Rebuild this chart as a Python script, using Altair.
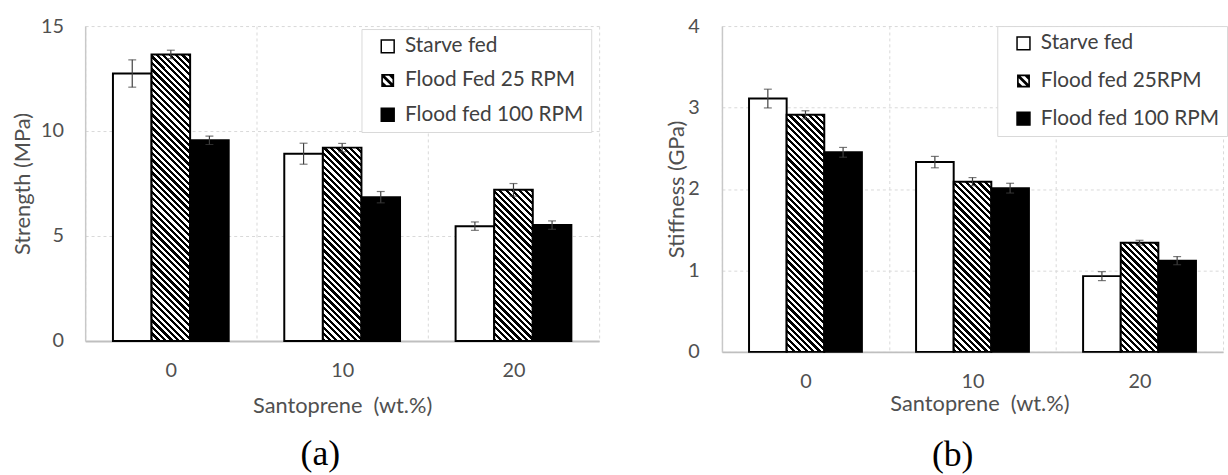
import altair as alt

# ---------------- data ----------------
WT = ["0", "10", "20"]

SERIES_A = ["Starve fed", "Flood Fed 25 RPM", "Flood fed 100 RPM"]
SERIES_B = ["Starve fed", "Flood fed 25RPM", "Flood fed 100 RPM"]

STRENGTH_STARVE = [12.74, 8.92, 5.47]
STRENGTH_FLOOD25 = [13.65, 9.21, 7.20]
STRENGTH_FLOOD100 = [9.56, 6.85, 5.52]
STRENGTH_STARVE_ERR = [0.65, 0.50, 0.20]
STRENGTH_FLOOD25_ERR = [0.20, 0.20, 0.30]
STRENGTH_FLOOD100_ERR = [0.20, 0.27, 0.20]

STIFF_STARVE = [3.11, 2.33, 0.93]
STIFF_FLOOD25 = [2.91, 2.09, 1.34]
STIFF_FLOOD100 = [2.45, 2.01, 1.12]
STIFF_STARVE_ERR = [0.115, 0.07, 0.055]
STIFF_FLOOD25_ERR = [0.05, 0.05, 0.03]
STIFF_FLOOD100_ERR = [0.06, 0.06, 0.05]

STRENGTH_TICKS = [0, 5, 10, 15]
STIFF_TICKS = [0, 1, 2, 3, 4]

# ---------------- style ----------------
FONT = "Lato"
GRID = "#d9d9d9"
TXT = "#505050"
ERR = "#404040"
PO = 0.72          # outer padding of bars inside a category
HATCH_PERIOD = 6.5


def hatch_gradient(w, h, period=HATCH_PERIOD, frac=0.5):
    """Linear gradient (bounding-box units) drawing 45 degree '\\' stripes."""
    span = w + h
    s = span / (w * w + h * h)
    x2, y2 = s * w, 1 - s * h
    pt = period / span
    stops = []
    t = 0.0
    while t < 1:
        b = min(t + pt * frac, 1.0)
        e = min(t + pt, 1.0)
        stops += [
            {"offset": round(t, 5), "color": "black"},
            {"offset": round(b, 5), "color": "black"},
            {"offset": round(b, 5), "color": "white"},
            {"offset": round(e, 5), "color": "white"},
        ]
        t += pt
    return {"gradient": "linear", "x1": 0, "y1": 1, "x2": round(x2, 5),
            "y2": round(y2, 5), "stops": stops}


def clip(poly, a, b, c):
    out = []
    n = len(poly)
    for i in range(n):
        p, q = poly[i], poly[(i + 1) % n]
        fp = a * p[0] + b * p[1] - c
        fq = a * q[0] + b * q[1] - c
        if fp <= 0:
            out.append(p)
        if (fp < 0 < fq) or (fq < 0 < fp):
            t = fp / (fp - fq)
            out.append((p[0] + t * (q[0] - p[0]), p[1] + t * (q[1] - p[1])))
    return out


def hatch_symbol_path():
    a = 0.74
    parts = ["M-1,-1L1,-1L1,1L-1,1Z", f"M{-a},{-a}L{-a},{a}L{a},{a}L{a},{-a}Z"]
    inner = [(-a, -a), (a, -a), (a, a), (-a, a)]
    for c1, c2 in [(-0.3, 0.3), (0.95, 3), (-3, -0.95)]:
        poly = clip(inner, 1, -1, c2)
        poly = clip(poly, -1, 1, -c1)
        if len(poly) >= 3:
            d = "M" + "L".join(f"{x:.3f},{y:.3f}" for x, y in poly) + "Z"
            parts.append(d)
    return "".join(parts)


HATCH_PATH = hatch_symbol_path()


def make_panel(series, vals, errs, ymax, ticks, ytitle, W, H,
               ytitle_x, ylab_pad, xtitle_y, xtitle_x, legx, legy, rowpad,
               caption, cap_dx, cap_offset):
    step = W / 3
    bw = step / (3 + 2 * PO)
    records = []
    for si, s in enumerate(series):
        for wi, wt in enumerate(WT):
            v, e = vals[si][wi], errs[si][wi]
            if si == 0:
                paint = "white"
            elif si == 1:
                paint = hatch_gradient(bw, v / ymax * H)
            else:
                paint = "black"
            records.append({"wt": wt, "series": s, "value": v,
                            "lo": v - e, "hi": v + e, "paint": paint})
    data = alt.Data(values=records)

    xscale = alt.Scale(domain=WT, paddingInner=0, paddingOuter=0)
    xoscale = alt.Scale(domain=series, paddingInner=0, paddingOuter=PO)
    yscale = alt.Scale(domain=[0, ymax], nice=False, zero=True)

    xaxis_kw = dict(
        title="Santoprene\u00a0 (wt.%)", labelAngle=0, tickBand="extent",
        grid=True, gridColor=GRID, gridDash=[3, 3], gridWidth=1,
        ticks=False, tickSize=0, domainColor="#bfbfbf", domainWidth=2,
        labelPadding=20, labelFont=FONT, labelFontSize=20, labelColor=TXT,
        titleFont=FONT, titleFontSize=22, titleFontWeight="normal",
        titleColor=TXT, titleY=xtitle_y, titleBaseline="middle",
    )
    if xtitle_x is not None:
        xaxis_kw["titleX"] = xtitle_x
    xaxis = alt.Axis(**xaxis_kw)
    yaxis = alt.Axis(
        title=ytitle, values=ticks, grid=True, gridColor=GRID,
        gridDash=[3, 3], gridWidth=1, ticks=False, tickSize=0,
        domainColor="#c8c8c8", domainWidth=1.5, labelPadding=ylab_pad,
        labelFont=FONT, labelFontSize=20, labelColor=TXT,
        titleFont=FONT, titleFontSize=22, titleFontWeight="normal",
        titleColor=TXT, titleX=ytitle_x, titleY=H / 2, titleBaseline="middle",
    )

    X = alt.X("wt:N", sort=WT, scale=xscale, axis=xaxis)
    XO = alt.XOffset("series:N", sort=series, scale=xoscale)

    legend = alt.Legend(
        title=None, orient="none", legendX=legx, legendY=legy,
        direction="vertical", fillColor="white", strokeColor=GRID,
        padding=7, rowPadding=rowpad, symbolSize=170, symbolStrokeWidth=1.5,
        symbolOffset=9, symbolOpacity=1, labelFont=FONT, labelFontSize=21,
        labelColor="#404040", labelOffset=7, labelLimit=400,
    )

    base = alt.Chart(data)
    bars = base.mark_bar(stroke="black", strokeWidth=2).encode(
        x=X, xOffset=XO,
        y=alt.Y("value:Q", stack=None, scale=yscale, axis=yaxis),
        fill=alt.Fill("paint:N", scale=None),
    )
    rules = base.mark_rule(color=ERR, strokeWidth=1.2).encode(
        x=X, xOffset=XO,
        y=alt.Y("lo:Q", scale=yscale, axis=yaxis), y2="hi:Q",
    )
    cap_lo = base.mark_tick(color=ERR, thickness=1.2, size=8).encode(
        x=X, xOffset=XO, y=alt.Y("lo:Q", scale=yscale, axis=yaxis),
    )
    cap_hi = base.mark_tick(color=ERR, thickness=1.2, size=8).encode(
        x=X, xOffset=XO, y=alt.Y("hi:Q", scale=yscale, axis=yaxis),
    )
    leg = base.mark_point(filled=True, opacity=0, size=1).encode(
        x=X, xOffset=XO,
        y=alt.Y("value:Q", stack=None, scale=yscale, axis=yaxis),
        color=alt.Color("series:N", sort=series,
                        scale=alt.Scale(domain=series, range=["white", "black", "black"]),
                        legend=legend),
        shape=alt.Shape("series:N", sort=series,
                        scale=alt.Scale(domain=series, range=["square", HATCH_PATH, "square"]),
                        legend=legend),
        stroke=alt.Stroke("series:N", sort=series,
                          scale=alt.Scale(domain=series, range=["black", "transparent", "black"]),
                          legend=legend),
    )
    return alt.layer(bars, rules, cap_lo, cap_hi, leg).properties(
        width=W, height=H,
        title=alt.TitleParams(caption, orient="bottom", anchor="middle",
                              frame="group", dx=cap_dx, offset=cap_offset,
                              font="Liberation Serif", fontSize=36,
                              fontWeight="normal", color="black"),
    )


left = make_panel(
    SERIES_A,
    [STRENGTH_STARVE, STRENGTH_FLOOD25, STRENGTH_FLOOD100],
    [STRENGTH_STARVE_ERR, STRENGTH_FLOOD25_ERR, STRENGTH_FLOOD100_ERR],
    15, STRENGTH_TICKS, "Strength (MPa)", 519, 318,
    ytitle_x=-63, ylab_pad=22, xtitle_y=65, xtitle_x=None,
    legx=279, legy=3, rowpad=12.5,
    caption="(a)", cap_dx=-22, cap_offset=21,
)
right = make_panel(
    SERIES_B,
    [STIFF_STARVE, STIFF_FLOOD25, STIFF_FLOOD100],
    [STIFF_STARVE_ERR, STIFF_FLOOD25_ERR, STIFF_FLOOD100_ERR],
    4, STIFF_TICKS, "Stiffness (GPa)", 506, 329,
    ytitle_x=-46, ylab_pad=23, xtitle_y=52, xtitle_x=260,
    legx=278, legy=0, rowpad=16,
    caption="(b)", cap_dx=-20, cap_offset=24,
)

chart = alt.hconcat(left, right, spacing=67).resolve_scale(
    color="independent", shape="independent", stroke="independent",
    x="independent", y="independent", xOffset="independent",
).resolve_legend(
    color="independent", shape="independent", stroke="independent",
).properties(
    padding={"left": 12, "top": 14, "right": 0, "bottom": 0},
    background="white",
).configure_view(strokeWidth=0)

chart.save("out.html", embed_options={"renderer": "svg", "actions": False})
